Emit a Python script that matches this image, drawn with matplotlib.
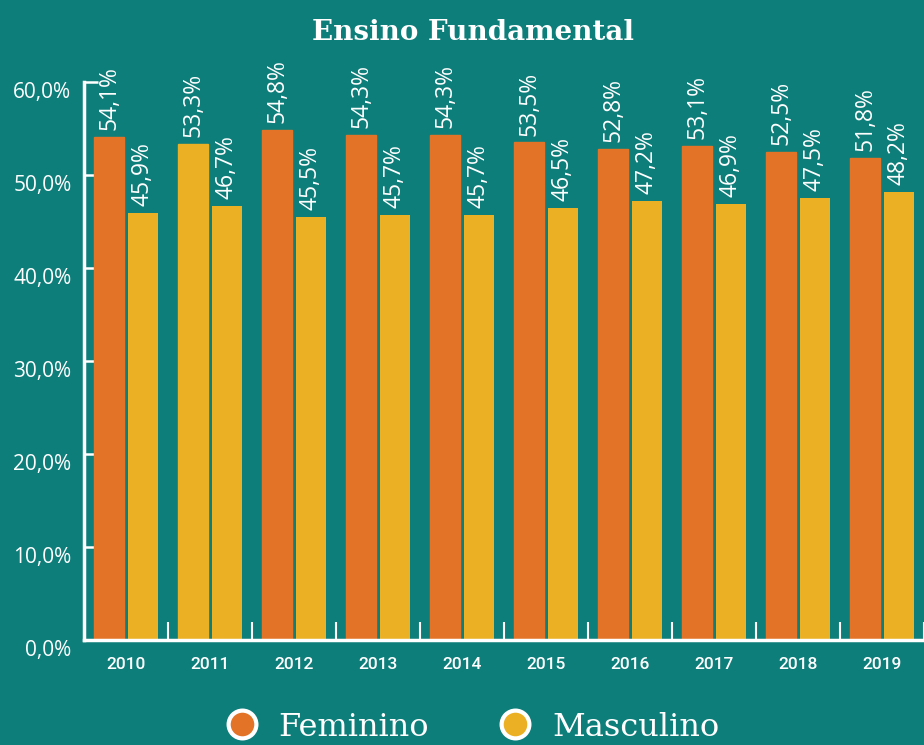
import matplotlib
matplotlib.use("Agg")
import matplotlib.pyplot as plt
import matplotlib.transforms as mtransforms
from matplotlib.lines import Line2D
import numpy as np

# Data
anos = ["2010", "2011", "2012", "2013", "2014", "2015", "2016", "2017", "2018", "2019"]
feminino = [54.1, 53.3, 54.8, 54.3, 54.3, 53.5, 52.8, 53.1, 52.5, 51.8]
masculino = [45.9, 46.7, 45.5, 45.7, 45.7, 46.5, 47.2, 46.9, 47.5, 48.2]
# year whose female bar is printed in the male colour
ano_destaque = "2011"

BG = "#0E7E7A"
LARANJA = "#E37427"
AMARELO = "#EBB023"
BRANCO = "#FFFFFF"

def fmt(v):
    return f"{v:.1f}".replace(".", ",") + "%"

fig = plt.figure(figsize=(9.24, 7.45), dpi=100, facecolor=BG)
ax = fig.add_axes([84 / 924, (745 - 640) / 745, (924 - 84) / 924, (640 - 82) / 745])
ax.set_facecolor(BG)

x = np.arange(len(anos))
w = 0.367
off = 0.202
i_dest = anos.index(ano_destaque)
fem_cores = [AMARELO if i == i_dest else LARANJA for i in range(len(anos))]
b1 = ax.bar(x - off, feminino, width=w, zorder=2)
for r, c in zip(b1, fem_cores):
    r.set_facecolor(c)
    r.set_edgecolor(c)
b2 = ax.bar(x + off, masculino, width=w, color=AMARELO, zorder=2)

for bars, vals in ((b1, feminino), (b2, masculino)):
    for r, v in zip(bars, vals):
        ax.annotate(fmt(v), (r.get_x() + r.get_width() / 2, v),
                    xytext=(0, 5), textcoords="offset points",
                    rotation=90, ha="center", va="bottom",
                    color=BRANCO, fontsize=16.5, family="Open Sans",
                    annotation_clip=False)

ax.set_xlim(-0.5, 9.45)
ax.set_ylim(0, 60)

ax.set_yticks(np.arange(0, 61, 10))
ax.set_yticklabels([fmt(v) for v in np.arange(0, 61, 10)])
ax.tick_params(axis="y", direction="in", length=10, width=1.8, color=BRANCO,
               labelcolor=BRANCO, labelsize=15, pad=9)
shift = mtransforms.ScaledTranslation(0, -8 / 100, fig.dpi_scale_trans)
for t in ax.get_yticklabels():
    t.set_family("Open Sans")
    t.set_transform(t.get_transform() + shift)

# Group separators on the bottom axis
ax.set_xticks(x + 0.5, minor=False)
ax.set_xticklabels([])
ax.tick_params(axis="x", which="major", direction="in", length=13, width=1.5,
               color=BRANCO)
ax.set_xticks(x, minor=True)
ax.set_xticklabels(anos, minor=True)
ax.tick_params(axis="x", which="minor", length=0, labelcolor=BRANCO,
               labelsize=12.5, pad=12)
for t in ax.get_xticklabels(minor=True):
    t.set_family("Roboto")
    t.set_fontweight("medium")

for s in ("top", "right"):
    ax.spines[s].set_visible(False)
for s in ("left", "bottom"):
    ax.spines[s].set_color(BRANCO)
    ax.spines[s].set_linewidth(2.5)

fig.text(473 / 924, 1 - 32 / 745, "Ensino Fundamental", ha="center", va="center",
         color=BRANCO, fontsize=20, family="DejaVu Serif", fontweight="bold")

handles = [
    Line2D([], [], marker="o", linestyle="none", markersize=20,
           markerfacecolor=LARANJA, markeredgecolor=BRANCO, markeredgewidth=3),
    Line2D([], [], marker="o", linestyle="none", markersize=20,
           markerfacecolor=AMARELO, markeredgecolor=BRANCO, markeredgewidth=3),
]
leg = fig.legend(handles, ["Feminino", "Masculino"], loc="center",
                 bbox_to_anchor=(471 / 924, 1 - 727 / 745), ncol=2, frameon=False,
                 prop={"family": "DejaVu Serif", "size": 23}, labelcolor=BRANCO,
                 handletextpad=0.55, columnspacing=2.1, handlelength=1.2)

fig.savefig("out.png", dpi=100, facecolor=BG)
